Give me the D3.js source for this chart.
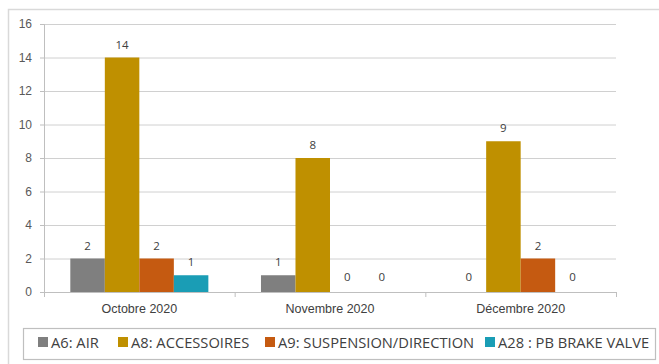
<!DOCTYPE html>
<html><head><meta charset="utf-8">
<script src="https://cdn.jsdelivr.net/npm/d3@7"></script>
<style>body{margin:0;background:#fff;}svg{display:block;font-family:"Open Sans","Liberation Sans",sans-serif;}</style>
</head><body><svg id="c" width="659" height="364"></svg>
<script>
const categories = ["Octobre 2020", "Novembre 2020", "Décembre 2020"];
const seriesNames = ["A6: AIR", "A8: ACCESSOIRES", "A9: SUSPENSION/DIRECTION", "A28 : PB BRAKE VALVE"];
const seriesColors = ["#7f7f7f", "#bf9000", "#c55a11", "#1a9db5"];
const a6 = [2, 1, 0];
const a8 = [14, 8, 9];
const a9 = [2, 0, 2];
const a28 = [1, 0, 0];
const yTicks = [0, 2, 4, 6, 8, 10, 12, 14, 16];
const seriesValues = [a6, a8, a9, a28];

(function(){
const svg = d3.select("#c");
svg.append("rect").attr("x", 8.5).attr("y", 9.5).attr("width", 700).attr("height", 400)
  .attr("fill", "none").attr("stroke", "#d9d9d9").attr("stroke-width", 1.5);

const pL = 44, pR = 616, pT = 24, pB = 292;
const x0 = d3.scaleBand().domain(categories).range([pL, pR]).paddingInner(0.276).paddingOuter(0.138);
const x1 = d3.scaleBand().domain(d3.range(4)).range([0, x0.bandwidth()]);
const y = d3.scaleLinear().domain([0, 16]).range([pB, pT]);

svg.append("g").selectAll("line").data(yTicks.filter(d => d > 0)).join("line")
  .attr("x1", pL).attr("x2", pR).attr("y1", d => y(d) + 0.5).attr("y2", d => y(d) + 0.5)
  .attr("stroke", "#d0d0d0").attr("stroke-width", 1);

const yAxis = svg.append("g").attr("transform", `translate(${pL},0)`)
  .call(d3.axisLeft(y).tickValues(yTicks).tickSize(4).tickPadding(8));
yAxis.select(".domain").attr("stroke", "#bfbfbf");
yAxis.selectAll(".tick line").attr("stroke", "#bfbfbf");
yAxis.selectAll("text").attr("fill", "#595959").style("font-size", "12px");

const xAxis = svg.append("g").attr("transform", `translate(0,${pB})`)
  .call(d3.axisBottom(x0).tickSize(0).tickPadding(12));
xAxis.select(".domain").remove();
xAxis.selectAll("text").attr("fill", "#404040").style("font-size", "12.5px");
svg.append("line").attr("x1", pL).attr("x2", pR).attr("y1", pB + 0.5).attr("y2", pB + 0.5)
  .attr("stroke", "#bfbfbf");
svg.append("g").selectAll("line").data(d3.range(4)).join("line")
  .attr("x1", i => pL + i * (pR - pL) / 3 + 0.5).attr("x2", i => pL + i * (pR - pL) / 3 + 0.5)
  .attr("y1", pB).attr("y2", pB + 5).attr("stroke", "#bfbfbf");

const groups = svg.append("g").selectAll("g").data(categories).join("g")
  .attr("transform", d => `translate(${x0(d)},0)`);
groups.each(function(cat, ci) {
  const g = d3.select(this);
  seriesValues.forEach((vals, si) => {
    const v = vals[ci];
    if (v > 0) {
      g.append("rect").attr("x", x1(si)).attr("width", x1.bandwidth())
        .attr("y", y(v)).attr("height", y(0) - y(v)).attr("fill", seriesColors[si]);
    }
    g.append("text").attr("x", x1(si) + x1.bandwidth() / 2).attr("y", y(v) - (v > 0 ? 9 : 11))
      .attr("text-anchor", "middle").attr("fill", "#404040").style("font-size", "11.5px").text(v);
  });
});

svg.append("rect").attr("x", 23.5).attr("y", 328.5).attr("width", 632).attr("height", 31)
  .attr("fill", "none").attr("stroke", "#bfbfbf").attr("stroke-width", 1.2);
const legX = [38, 118, 265, 485];
const leg = svg.append("g").selectAll("g").data(seriesNames).join("g")
  .attr("transform", (d, i) => `translate(${legX[i]},342)`);
leg.append("rect").attr("x", 0).attr("y", -5).attr("width", 10).attr("height", 10).attr("fill", (d, i) => seriesColors[i]);
leg.append("text").attr("x", 13).attr("y", 5.5).attr("fill", "#404040").style("font-size", "14.7px").text(d => d);
})();
</script></body></html>
